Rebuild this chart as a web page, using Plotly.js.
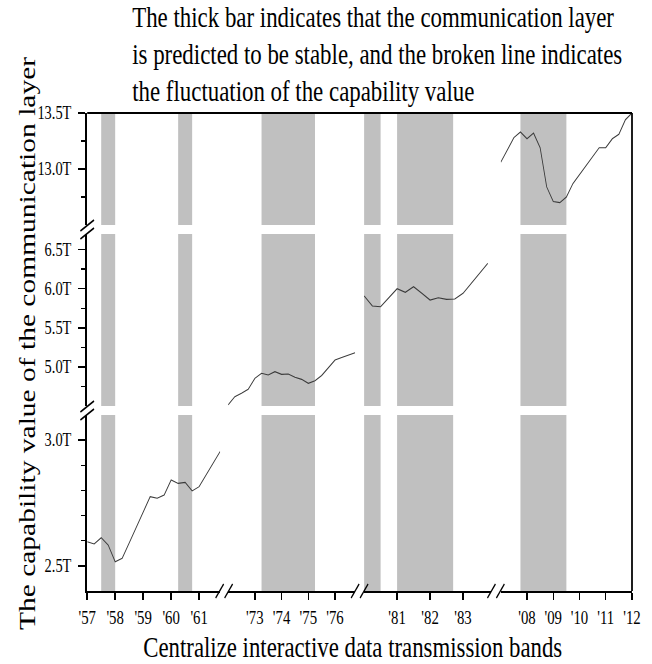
<!DOCTYPE html>
<html>
<head>
<meta charset="utf-8">
<script src="https://cdn.plot.ly/plotly-3.0.1.min.js"></script>
<style>
  html, body { margin: 0; padding: 0; background: #fff; overflow: hidden; }
  /* the figure is laid out wide and condensed horizontally */
  #chart { width: 815px; height: 664px; transform: scaleX(0.8); transform-origin: 0 0; }
</style>
</head>
<body>
<div id="chart"></div>
<script>
// ---- capability value series, one per period (quarterly) ----
const years57 = [1957, 1957.25, 1957.5, 1957.75, 1958, 1958.25, 1958.5, 1958.75, 1959, 1959.25,
                 1959.5, 1959.75, 1960, 1960.25, 1960.5, 1960.75, 1961, 1961.25, 1961.5, 1961.75];
const cap57 = [2.596, 2.587, 2.612, 2.583, 2.516, 2.530, 2.591, 2.653, 2.714, 2.775,
               2.769, 2.782, 2.842, 2.828, 2.832, 2.798, 2.815, 2.860, 2.908, 2.955];

const years73 = [1972, 1972.25, 1972.5, 1972.75, 1973, 1973.25, 1973.5, 1973.75, 1974, 1974.25,
                 1974.5, 1974.75, 1975, 1975.25, 1975.5, 1975.75, 1976, 1976.25, 1976.5, 1976.75];
const cap73 = [4.515, 4.619, 4.662, 4.714, 4.854, 4.918, 4.896, 4.939, 4.905, 4.909,
               4.867, 4.841, 4.790, 4.824, 4.890, 4.986, 5.088, 5.120, 5.152, 5.182];

const years81 = [1980, 1980.25, 1980.5, 1980.75, 1981, 1981.25, 1981.5, 1981.75,
                 1982, 1982.25, 1982.5, 1982.75, 1983, 1983.25, 1983.5, 1983.75];
const cap81 = [5.907, 5.779, 5.770, 5.884, 6.000, 5.954, 6.026, 5.941,
               5.855, 5.885, 5.864, 5.868, 5.941, 6.069, 6.197, 6.324];

const years08 = [2007, 2007.25, 2007.5, 2007.75, 2008, 2008.25, 2008.5, 2008.75, 2009, 2009.25, 2009.5,
                 2009.75, 2010, 2010.25, 2010.5, 2010.75, 2011, 2011.25, 2011.5, 2011.75, 2012];
const cap08 = [13.06, 13.17, 13.28, 13.33, 13.27, 13.32, 13.19, 12.84, 12.71, 12.70, 12.75,
               12.87, 12.95, 13.03, 13.11, 13.19, 13.19, 13.27, 13.31, 13.44, 13.50];

// ---- shaded bands (start / end year) for each period ----
const bandStart57 = [1957.5, 1960.25];
const bandEnd57   = [1958.0, 1960.75];
const bandStart73 = [1973.25];
const bandEnd73   = [1975.25];
const bandStart81 = [1980.0, 1981.0];
const bandEnd81   = [1980.5, 1982.7];
const bandStart08 = [2007.75];
const bandEnd08   = [2009.5];

// ---- tick labels ----
const xTicks57 = [1957, 1958, 1959, 1960, 1961];
const xLabels57 = ["'57", "'58", "'59", "'60", "'61"];
const xTicks73 = [1973, 1974, 1975, 1976];
const xLabels73 = ["'73", "'74", "'75", "'76"];
const xTicks81 = [1981, 1982, 1983];
const xLabels81 = ["'81", "'82", "'83"];
const xTicks08 = [2008, 2009, 2010, 2011, 2012];
const xLabels08 = ["'08", "'09", "'10", "'11", "'12"];

const yTicksLow = [2.5, 3.0];
const yLabelsLow = ['2.5T', '3.0T'];
const yMinorLow = [2.6, 2.7, 2.8, 2.9];
const yTicksMid = [5.0, 5.5, 6.0, 6.5];
const yLabelsMid = ['5.0T', '5.5T', '6.0T', '6.5T'];
const yMinorMid = [4.75, 5.25, 5.75, 6.25];
const yTicksTop = [13.0, 13.5];
const yLabelsTop = ['13.0T', '13.5T'];
const yMinorTop = [12.75, 13.25];

// ---- figure geometry ----
const W = 815, H = 664;
const M = { l: 109, r: 25, t: 113, b: 73 };
const PW = W - M.l - M.r, PH = H - M.t - M.b;

const xDom = [[0, 0.2440], [0.2587, 0.4917], [0.5083, 0.7413], [0.7591, 1]];
const yDom = [[0, 0.3682], [0.387, 0.7469], [0.7657, 1]];

const FONT = 'Liberation Serif, Times New Roman, serif';
const INK = '#000';

function xAxis(dom, range, tv, tt) {
  return {
    domain: dom, range: range, anchor: 'y', type: 'linear',
    showline: true, linecolor: INK, linewidth: 1.5,
    ticks: 'outside', ticklen: 7, tickwidth: 1.8, tickcolor: INK,
    tickmode: 'array', tickvals: tv, ticktext: tt,
    tickfont: { family: FONT, size: 18.5, color: INK },
    ticklabelstandoff: 2,
    showgrid: false, zeroline: false, fixedrange: true
  };
}
function yAxis(dom, range, tv, tt, minor) {
  return {
    domain: dom, range: range, anchor: 'x', type: 'linear',
    showline: true, linecolor: INK, linewidth: 2.2,
    ticks: 'outside', ticklen: 9, tickwidth: 1.5, tickcolor: INK,
    tickmode: 'array', tickvals: tv, ticktext: tt,
    minor: { tickvals: minor, ticks: 'outside', ticklen: 5, tickwidth: 1.5, tickcolor: INK, showgrid: false },
    tickfont: { family: FONT, size: 18, color: INK },
    ticklabelstandoff: 5,
    showgrid: false, zeroline: false, fixedrange: true
  };
}

const lineStyle = { color: '#3a3a3a', width: 1.1 };
const traces = [
  { x: years57, y: cap57, xaxis: 'x',  yaxis: 'y',  type: 'scatter', mode: 'lines', line: lineStyle, hoverinfo: 'skip' },
  { x: years73, y: cap73, xaxis: 'x2', yaxis: 'y2', type: 'scatter', mode: 'lines', line: lineStyle, hoverinfo: 'skip' },
  { x: years81, y: cap81, xaxis: 'x3', yaxis: 'y2', type: 'scatter', mode: 'lines', line: lineStyle, hoverinfo: 'skip' },
  { x: years08, y: cap08, xaxis: 'x4', yaxis: 'y3', type: 'scatter', mode: 'lines', line: lineStyle, hoverinfo: 'skip' }
];

// shaded bands run through every value segment of their period
const shapes = [];
const bandSets = [
  ['x', bandStart57, bandEnd57], ['x2', bandStart73, bandEnd73],
  ['x3', bandStart81, bandEnd81], ['x4', bandStart08, bandEnd08]
];
bandSets.forEach(([xr, s, e]) => {
  s.forEach((x0, i) => {
    ['y', 'y2', 'y3'].forEach(yr => {
      shapes.push({ type: 'rect', layer: 'below', xref: xr, yref: yr + ' domain',
        x0: x0, x1: e[i], y0: 0, y1: 1, fillcolor: '#c0c0c0', line: { width: 0 } });
    });
  });
});

// frame: top and right edges
const frame = { color: INK, width: 1.8 };
shapes.push({ type: 'line', xref: 'paper', yref: 'paper', x0: 0, x1: 1, y0: 1, y1: 1, line: frame });
shapes.push({ type: 'line', xref: 'paper', yref: 'paper', x0: 1, x1: 1, y0: 0, y1: 1, line: { color: INK, width: 2.2 } });

// break marks "//" on the x axis (between period panels)
const px = v => v / PW, py = v => v / PH;
const brk = { color: INK, width: 1.5 };
for (let i = 0; i < xDom.length - 1; i++) {
  const c = (xDom[i][1] + xDom[i + 1][0]) / 2;
  [-5.6, 5.6].forEach(off => {
    shapes.push({ type: 'line', xref: 'paper', yref: 'paper',
      x0: c + px(off - 5), x1: c + px(off + 5), y0: -py(7), y1: py(7), line: brk });
  });
}
// break marks "//" on the y axis (between value segments)
for (let j = 0; j < yDom.length - 1; j++) {
  const c = (yDom[j][1] + yDom[j + 1][0]) / 2;
  [-4, 4].forEach(off => {
    shapes.push({ type: 'line', xref: 'paper', yref: 'paper',
      x0: -px(8.5), x1: px(8.5), y0: c + py(off - 5.5), y1: c + py(off + 5.5), line: { color: INK, width: 1.8 } });
  });
}

const layout = {
  width: W, height: H, margin: M,
  paper_bgcolor: '#fff', plot_bgcolor: '#fff',
  showlegend: false,
  title: {
    text: 'The thick bar indicates that the communication layer<br>is predicted to be stable, and the broken line indicates<br>the fluctuation of the capability value',
    xref: 'paper', x: 0.0826, xanchor: 'left',
    yref: 'container', y: 0.960, yanchor: 'top',
    font: { family: FONT, size: 28.6, color: INK }
  },
  xaxis:  xAxis(xDom[0], [1957, 1961.75], xTicks57, xLabels57),
  xaxis2: xAxis(xDom[1], [1972, 1976.75], xTicks73, xLabels73),
  xaxis3: xAxis(xDom[2], [1980, 1983.85], xTicks81, xLabels81),
  xaxis4: xAxis(xDom[3], [2007, 2012], xTicks08, xLabels08),
  yaxis:  yAxis(yDom[0], [2.4, 3.1], yTicksLow, yLabelsLow, yMinorLow),
  yaxis2: yAxis(yDom[1], [4.5, 6.7], yTicksMid, yLabelsMid, yMinorMid),
  yaxis3: yAxis(yDom[2], [12.5, 13.5], yTicksTop, yLabelsTop, yMinorTop),
  shapes: shapes,
  annotations: [
    { text: 'Centralize interactive data transmission bands', xref: 'paper', yref: 'paper',
      x: 0.488, y: -0.119, xanchor: 'center', yanchor: 'middle', showarrow: false,
      font: { family: FONT, size: 28.5, color: INK } },
    { text: 'The capability value of the communication layer', xref: 'paper', yref: 'paper',
      x: -0.109, y: 0.518, xanchor: 'center', yanchor: 'middle', textangle: -90, showarrow: false,
      font: { family: FONT, size: 29.5, color: INK } }
  ]
};

Plotly.newPlot('chart', traces, layout, { staticPlot: true, displayModeBar: false });
</script>
</body>
</html>
